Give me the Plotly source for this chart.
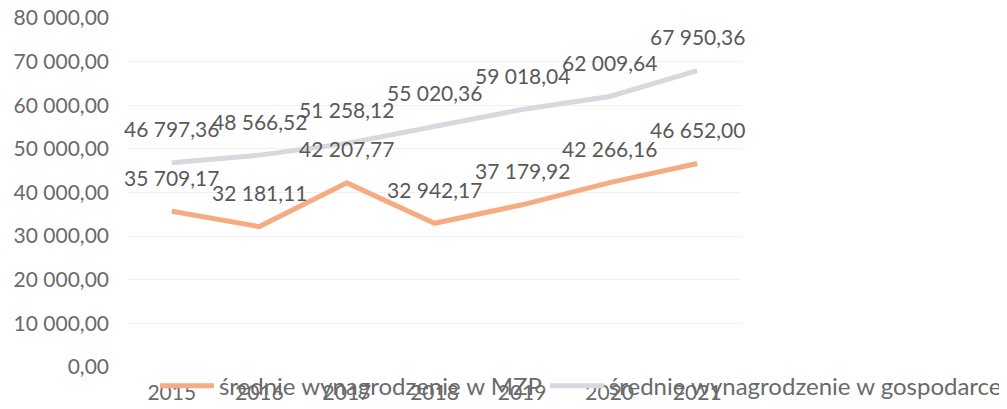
import plotly.graph_objects as go

years = [2015, 2016, 2017, 2018, 2019, 2020, 2021]
mzp = [35709.17, 32181.11, 42207.77, 32942.17, 37179.92, 42266.16, 46652.00]
gosp = [46797.36, 48566.52, 51258.12, 55020.36, 59018.04, 62009.64, 67950.36]
name_mzp = "średnie wynagrodzenie w MZP"
name_gosp = "średnie wynagrodzenie w gospodarce"

FONT = "Lato"
TXT = "#595959"
AXT = "#6a6a6a"

def fmt(v):
    s = f"{v:,.2f}"
    return s.replace(",", " ").replace(".", ",")

fig = go.Figure()
fig.add_trace(go.Scatter(x=years, y=mzp, mode="lines", name=name_mzp,
                         line=dict(color="#F5AC82", width=5), legend="legend"))
fig.add_trace(go.Scatter(x=years, y=gosp, mode="lines", name=name_gosp,
                         line=dict(color="#D8D8DE", width=5), legend="legend2"))

for series in (mzp, gosp):
    for x, v in zip(years, series):
        fig.add_annotation(x=x, y=v, text=fmt(v), showarrow=False,
                           yshift=34, yanchor="middle", xanchor="center",
                           font=dict(family=FONT, size=21, color=TXT))

leg_common = dict(orientation="h", y=-0.055, xanchor="left", yanchor="middle",
                  bgcolor="rgba(0,0,0,0)", itemwidth=54,
                  font=dict(family=FONT, size=24, color=AXT))

fig.update_layout(
    width=999, height=401,
    margin=dict(l=120, r=266, t=10, b=42, autoexpand=False),
    paper_bgcolor="white", plot_bgcolor="white",
    separators=", ",
    font=dict(family=FONT, size=21, color=AXT),
    showlegend=True,
    legend=dict(x=0.044, **leg_common),
    legend2=dict(x=0.680, **leg_common),
    xaxis=dict(range=[2014.5, 2021.5], dtick=1, tick0=2015, showgrid=False,
               showline=False, zeroline=False, ticks="", ticklabelstandoff=11,
               automargin=False, ticklabeloverflow="allow"),
    yaxis=dict(range=[0, 80000], dtick=10000, tickformat=",.2f",
               showgrid=True, gridcolor="#F0F0F0", gridwidth=1,
               zeroline=False, showline=False, ticks="", ticklabelstandoff=18,
               automargin=False, ticklabeloverflow="allow"),
)

fig.write_html("out.html")
